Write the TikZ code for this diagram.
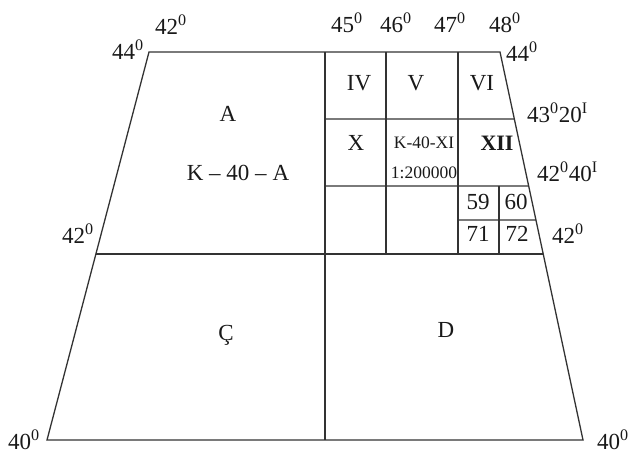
\documentclass[tikz,border=0pt]{standalone}
\usepackage{fontspec}
\setmainfont{Liberation Serif}
\usetikzlibrary{calc}
\tikzset{
  edge/.style={draw=black!80, line width=1.3pt},
  lbl/.style={inner sep=0pt, text=black!90, font=\fontsize{23}{25}\selectfont},
  small/.style={inner sep=0pt, text=black!90, font=\fontsize{17.5}{20}\selectfont},
  bold/.style={inner sep=0pt, text=black!90, font=\fontsize{22}{24}\selectfont\bfseries}
}
\newcommand{\dg}[1]{#1\textsuperscript{0}}
\begin{document}
\begin{tikzpicture}[x=1pt,y=-1pt]
\useasboundingbox (0,0) rectangle (636,454);
% corners
\coordinate (TL) at (149,52);
\coordinate (TR) at (500,52);
\coordinate (BR) at (583,440);
\coordinate (BL) at (47,440);
\coordinate (ML) at ($(TL)!0.5206!(BL)$);
\coordinate (MR) at ($(TR)!0.5206!(BR)$);
\coordinate (TM) at (325,52);
\coordinate (BM) at (325,440);
\coordinate (CM) at (325,254);
\coordinate (T1) at (386,52);
\coordinate (C1) at (386,254);
\coordinate (T2) at (458,52);
\coordinate (C2) at (458,254);
\coordinate (H1L) at (325,119);
\coordinate (H1R) at ($(TR)!0.1727!(BR)$);
\coordinate (H2L) at (325,186);
\coordinate (H2R) at ($(TR)!0.3454!(BR)$);
\coordinate (H3L) at (458,220);
\coordinate (H3R) at ($(TR)!0.433!(BR)$);
\coordinate (V3T) at (499,186);
\coordinate (V3B) at (499,254);
% frame
\draw[edge] (TL) -- (TR) -- (BR) -- (BL) -- cycle;
\draw[edge] (ML) -- (MR);
\draw[edge] (TM) -- (BM);
\draw[edge] (T1) -- (C1);
\draw[edge] (T2) -- (C2);
\draw[edge] (H1L) -- (H1R);
\draw[edge] (H2L) -- (H2R);
\draw[edge] (H3L) -- (H3R);
\draw[edge] (V3T) -- (V3B);
% degree labels
\node[lbl] (l42t) at (171,25) {\dg{42}};
\node[lbl] (l44l) at (128,50) {\dg{44}};
\node[lbl] (l45) at (347,23) {\dg{45}};
\node[lbl] (l46) at (396,23) {\dg{46}};
\node[lbl] (l47) at (450,23) {\dg{47}};
\node[lbl] (l48) at (505,23) {\dg{48}};
\node[lbl] (l44r) at (522,52) {\dg{44}};
\node[lbl,anchor=west] (l4320) at (527,113) {\dg{43}20\textsuperscript{I}};
\node[lbl,anchor=west] (l4240) at (537,172) {\dg{42}40\textsuperscript{I}};
\node[lbl,anchor=west] (l42r) at (552,234) {\dg{42}};
\node[lbl] (l42l) at (78,234) {\dg{42}};
\node[lbl] (l40l) at (24,440) {\dg{40}};
\node[lbl] (l40r) at (613,440) {\dg{40}};
% cell labels
\node[lbl] (A) at (228,114) {A};
\node[lbl] (KA) at (238,173) {K -- 40 -- A};
\node[lbl] (IV) at (359,83) {IV};
\node[lbl] (V) at (416,83) {V};
\node[lbl] (VI) at (482,83) {VI};
\node[lbl] (X) at (356,143) {X};
\node[small] (KXI) at (424,143) {K-40-XI};
\node[small] (sc) at (424,173) {1:200000};
\node[bold] (XII) at (497,143) {XII};
\node[lbl] (n59) at (478,202) {59};
\node[lbl] (n60) at (516,202) {60};
\node[lbl] (n71) at (478,234) {71};
\node[lbl] (n72) at (517,234) {72};
\node[lbl] (C) at (226,335) {Ç};
\node[lbl] (D) at (446,330) {D};
\end{tikzpicture}
\end{document}
